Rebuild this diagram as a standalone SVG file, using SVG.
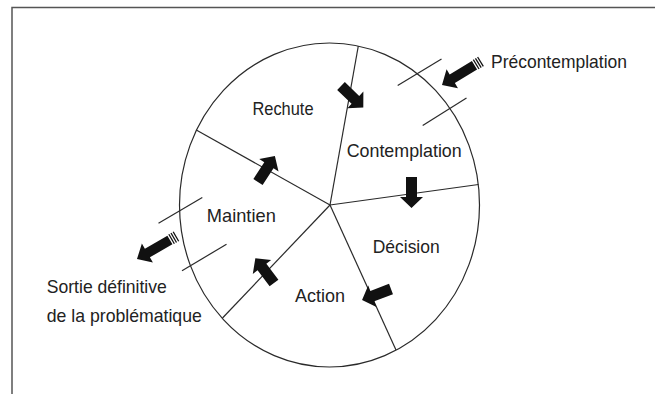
<svg xmlns="http://www.w3.org/2000/svg" xmlns:xlink="http://www.w3.org/1999/xlink" width="655" height="394" viewBox="0 0 655 394">
<style>
.frame{fill:none;stroke:#555;stroke-width:1.5}
.ln{fill:none;stroke:#2a2a2a;stroke-width:1.2}
.arr{fill:#111}
.lbl{font-family:"Liberation Sans",Arial,sans-serif;font-size:18.5px;fill:#222}
</style>
<defs>
<path id="a" d="M0,-5.5 H20 V-11.5 L31,0 L20,11.5 V5.5 H0 Z"/>
<g id="ax">
<path d="M0,-5 H26 V-11 L38,0 L26,11 V5 H0 Z"/>
<rect x="-2.6" y="-5.5" width="1.3" height="11"/>
<rect x="-5.1" y="-5.5" width="1.3" height="11"/>
<rect x="-7.6" y="-5.5" width="1.3" height="11"/>
</g>
</defs>
<rect width="655" height="394" fill="#fff"/>
<path class="frame" d="M12,394 V7.5 H655"/>
<g id="wheel">
<ellipse class="ln" cx="329.5" cy="205" rx="150" ry="162"/>
</g>
<g id="connectors">
<line class="ln" x1="330" y1="205" x2="358.3" y2="46"/>
<line class="ln" x1="330" y1="205" x2="196.3" y2="130"/>
<line class="ln" x1="330" y1="205" x2="478.5" y2="184.5"/>
<line class="ln" x1="330" y1="205" x2="396" y2="350"/>
<line class="ln" x1="330" y1="205" x2="222.5" y2="318"/>
<line class="ln" x1="397.7" y1="85.5" x2="441.5" y2="59"/>
<line class="ln" x1="422.7" y1="125.5" x2="466.5" y2="98"/>
<line class="ln" x1="158.5" y1="223.3" x2="202.3" y2="197.5"/>
<line class="ln" x1="182" y1="270.7" x2="226.5" y2="244.3"/>
<use class="arr" xlink:href="#a" href="#a" transform="translate(411.5,177) rotate(90)"/>
<use class="arr" xlink:href="#a" href="#a" transform="translate(341,86) rotate(44)"/>
<use class="arr" xlink:href="#a" href="#a" transform="translate(391,289) rotate(159)"/>
<use class="arr" xlink:href="#a" href="#a" transform="translate(274,283) rotate(-127)"/>
<use class="arr" xlink:href="#a" href="#a" transform="translate(258,182) rotate(-57)"/>
<use class="arr" xlink:href="#ax" href="#ax" transform="translate(474.5,65.3) rotate(148.8)"/>
<use class="arr" xlink:href="#ax" href="#ax" transform="translate(169.9,240) rotate(150)"/>
</g>
<g id="rechute"><text class="lbl" x="252.5" y="115" textLength="61" lengthAdjust="spacingAndGlyphs">Rechute</text></g>
<g id="contemplation"><text class="lbl" x="346.7" y="157" textLength="115" lengthAdjust="spacingAndGlyphs">Contemplation</text></g>
<g id="decision"><text class="lbl" x="372.7" y="253.3" textLength="67" lengthAdjust="spacingAndGlyphs">Décision</text></g>
<g id="action"><text class="lbl" x="295" y="301.7" textLength="50" lengthAdjust="spacingAndGlyphs">Action</text></g>
<g id="maintien"><text class="lbl" x="206.8" y="221.7" textLength="69" lengthAdjust="spacingAndGlyphs">Maintien</text></g>
<g id="precontemplation"><text class="lbl" x="491" y="67.5" textLength="136" lengthAdjust="spacingAndGlyphs">Précontemplation</text></g>
<g id="sortie">
<text class="lbl" x="46.8" y="292.5" textLength="120" lengthAdjust="spacingAndGlyphs">Sortie définitive</text>
<text class="lbl" x="46.8" y="322" textLength="155" lengthAdjust="spacingAndGlyphs">de la problématique</text>
</g>
</svg>
